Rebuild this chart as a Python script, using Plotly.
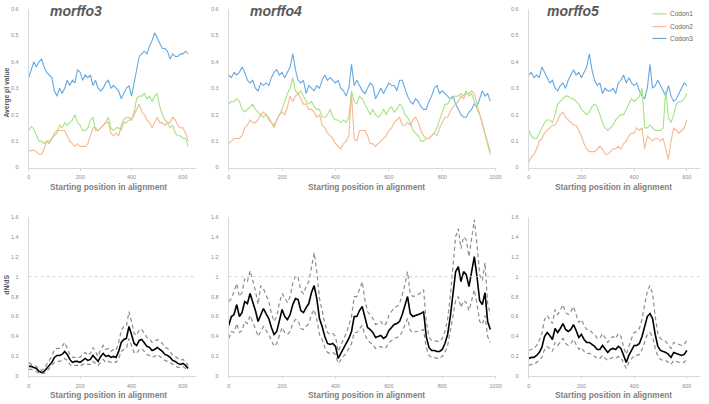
import plotly.graph_objects as go

# ---------------- data ----------------
pos3 = list(range(0, 630, 10))
pos4 = list(range(0, 990, 10))
pos5 = list(range(0, 610, 10))

m3_codon3 = [0.34,0.37,0.40,0.38,0.40,0.41,0.38,0.36,0.35,0.34,
             0.29,0.27,0.30,0.28,0.30,0.33,0.31,0.33,0.32,0.37,
             0.36,0.33,0.35,0.34,0.35,0.31,0.33,0.30,0.29,0.30,
             0.32,0.33,0.30,0.31,0.30,0.29,0.26,0.28,0.30,0.31,
             0.27,0.32,0.37,0.42,0.43,0.44,0.43,0.46,0.48,0.51,
             0.49,0.47,0.45,0.45,0.44,0.41,0.43,0.42,0.42,0.43,
             0.43,0.44,0.43]
m3_codon1 = [0.14,0.155,0.145,0.12,0.10,0.10,0.09,0.10,0.09,0.11,
             0.12,0.13,0.16,0.15,0.17,0.16,0.17,0.18,0.20,0.17,
             0.16,0.14,0.14,0.15,0.18,0.19,0.14,0.14,0.15,0.16,
             0.17,0.19,0.15,0.14,0.15,0.15,0.14,0.17,0.17,0.18,
             0.18,0.21,0.26,0.27,0.27,0.28,0.26,0.27,0.25,0.27,
             0.28,0.23,0.20,0.18,0.17,0.15,0.16,0.13,0.12,0.12,
             0.11,0.11,0.08]
m3_codon2 = [0.06,0.065,0.065,0.06,0.05,0.05,0.07,0.10,0.10,0.11,
             0.13,0.14,0.14,0.14,0.14,0.12,0.10,0.09,0.08,0.09,
             0.08,0.08,0.08,0.09,0.12,0.15,0.15,0.14,0.15,0.16,
             0.17,0.17,0.13,0.12,0.13,0.12,0.16,0.18,0.19,0.19,
             0.18,0.20,0.22,0.24,0.21,0.20,0.18,0.17,0.15,0.17,
             0.19,0.17,0.17,0.16,0.17,0.17,0.19,0.18,0.16,0.15,
             0.15,0.13,0.10]

m4_codon3 = [0.35,0.34,0.36,0.35,0.36,0.38,0.36,0.33,0.32,0.33,
             0.30,0.29,0.32,0.31,0.32,0.31,0.34,0.36,0.37,0.35,
             0.36,0.34,0.36,0.38,0.43,0.37,0.33,0.32,0.33,0.28,
             0.31,0.30,0.29,0.31,0.30,0.33,0.35,0.33,0.34,0.33,
             0.32,0.33,0.30,0.29,0.27,0.30,0.39,0.31,0.33,0.31,
             0.29,0.28,0.30,0.32,0.31,0.26,0.28,0.30,0.28,0.30,
             0.32,0.31,0.31,0.29,0.33,0.33,0.30,0.27,0.25,0.24,
             0.26,0.25,0.23,0.22,0.22,0.25,0.27,0.30,0.31,0.28,
             0.29,0.28,0.27,0.26,0.27,0.24,0.22,0.20,0.19,0.19,
             0.21,0.22,0.24,0.23,0.26,0.29,0.27,0.28,0.25]
m4_codon1 = [0.24,0.25,0.25,0.26,0.25,0.22,0.21,0.22,0.23,0.24,
             0.22,0.21,0.20,0.19,0.20,0.18,0.17,0.16,0.18,0.20,
             0.22,0.25,0.28,0.30,0.34,0.29,0.28,0.29,0.27,0.25,
             0.24,0.25,0.23,0.22,0.22,0.19,0.19,0.20,0.22,0.19,
             0.18,0.18,0.17,0.18,0.17,0.19,0.29,0.25,0.24,0.27,
             0.26,0.24,0.22,0.20,0.22,0.20,0.19,0.20,0.22,0.20,
             0.22,0.23,0.21,0.22,0.24,0.23,0.20,0.19,0.17,0.14,
             0.13,0.12,0.10,0.10,0.11,0.11,0.12,0.13,0.15,0.18,
             0.21,0.24,0.24,0.26,0.26,0.27,0.27,0.28,0.27,0.29,
             0.27,0.28,0.25,0.22,0.20,0.17,0.13,0.09,0.06]
m4_codon2 = [0.09,0.10,0.11,0.11,0.11,0.12,0.15,0.16,0.18,0.17,
             0.17,0.18,0.20,0.21,0.20,0.19,0.17,0.15,0.18,0.20,
             0.21,0.20,0.23,0.27,0.25,0.27,0.28,0.26,0.24,0.24,
             0.22,0.22,0.21,0.19,0.20,0.16,0.15,0.13,0.12,0.11,
             0.09,0.08,0.07,0.09,0.10,0.12,0.28,0.11,0.10,0.14,
             0.14,0.14,0.12,0.09,0.09,0.08,0.09,0.10,0.11,0.12,
             0.14,0.15,0.17,0.18,0.19,0.16,0.16,0.17,0.16,0.18,
             0.19,0.17,0.14,0.12,0.11,0.11,0.12,0.13,0.12,0.15,
             0.17,0.19,0.19,0.21,0.23,0.24,0.25,0.27,0.26,0.28,
             0.28,0.29,0.28,0.24,0.20,0.16,0.13,0.08,0.05]

m5_codon3 = [0.35,0.36,0.34,0.35,0.34,0.38,0.36,0.34,0.32,0.33,
             0.30,0.29,0.31,0.32,0.30,0.33,0.35,0.37,0.35,0.36,
             0.34,0.36,0.38,0.43,0.37,0.33,0.31,0.32,0.28,0.30,
             0.29,0.29,0.30,0.28,0.32,0.33,0.35,0.32,0.34,0.32,
             0.31,0.32,0.29,0.27,0.26,0.30,0.39,0.30,0.31,0.33,
             0.31,0.29,0.27,0.31,0.27,0.25,0.26,0.28,0.30,0.32,
             0.31]
m5_codon1 = [0.14,0.12,0.11,0.11,0.13,0.15,0.17,0.18,0.18,0.17,
             0.20,0.24,0.25,0.26,0.27,0.27,0.26,0.26,0.25,0.24,
             0.22,0.21,0.20,0.21,0.23,0.24,0.23,0.20,0.17,0.15,
             0.14,0.15,0.16,0.18,0.19,0.20,0.20,0.22,0.24,0.26,
             0.25,0.26,0.27,0.30,0.15,0.15,0.16,0.15,0.14,0.14,
             0.14,0.15,0.29,0.19,0.17,0.20,0.24,0.25,0.25,0.26,
             0.28]
m5_codon2 = [0.02,0.04,0.05,0.07,0.10,0.11,0.13,0.14,0.15,0.16,
             0.16,0.18,0.20,0.21,0.19,0.18,0.17,0.16,0.16,0.14,
             0.12,0.09,0.07,0.06,0.06,0.06,0.07,0.08,0.07,0.05,
             0.05,0.06,0.07,0.07,0.08,0.07,0.09,0.10,0.12,0.13,
             0.13,0.15,0.14,0.15,0.07,0.12,0.11,0.10,0.11,0.11,
             0.10,0.11,0.07,0.03,0.10,0.15,0.14,0.13,0.14,0.15,
             0.18]

m3_dnds = [0.10,0.10,0.09,0.08,0.05,0.04,0.05,0.08,0.11,0.14,
           0.19,0.21,0.21,0.22,0.25,0.22,0.17,0.14,0.15,0.15,
           0.14,0.16,0.18,0.16,0.17,0.21,0.18,0.15,0.20,0.23,
           0.20,0.21,0.19,0.20,0.19,0.25,0.34,0.37,0.38,0.50,
           0.42,0.33,0.31,0.36,0.37,0.33,0.30,0.29,0.26,0.27,
           0.29,0.27,0.25,0.22,0.21,0.19,0.16,0.15,0.13,0.12,
           0.13,0.11,0.08]
m3_upper = [0.14,0.12,0.11,0.10,0.07,0.06,0.08,0.12,0.16,0.20,
            0.27,0.28,0.28,0.30,0.34,0.28,0.22,0.19,0.19,0.19,
            0.19,0.22,0.24,0.21,0.23,0.29,0.24,0.20,0.27,0.31,
            0.27,0.28,0.25,0.27,0.26,0.34,0.46,0.50,0.50,0.65,
            0.55,0.43,0.41,0.47,0.47,0.43,0.39,0.38,0.34,0.35,
            0.37,0.35,0.33,0.29,0.28,0.25,0.21,0.20,0.18,0.16,
            0.17,0.15,0.11]
m3_lower = [0.07,0.07,0.06,0.05,0.03,0.03,0.03,0.05,0.08,0.10,
            0.14,0.15,0.15,0.16,0.18,0.16,0.12,0.10,0.11,0.11,
            0.10,0.12,0.13,0.12,0.12,0.15,0.13,0.11,0.14,0.17,
            0.14,0.15,0.14,0.15,0.14,0.18,0.25,0.27,0.28,0.38,
            0.31,0.24,0.23,0.27,0.28,0.25,0.22,0.21,0.19,0.20,
            0.22,0.20,0.18,0.16,0.15,0.14,0.12,0.11,0.09,0.09,
            0.10,0.08,0.06]

m4_dnds = [0.51,0.60,0.62,0.72,0.60,0.64,0.75,0.73,0.83,0.75,
           0.66,0.55,0.62,0.68,0.63,0.58,0.49,0.42,0.45,0.56,
           0.67,0.60,0.57,0.62,0.72,0.78,0.77,0.66,0.64,0.69,
           0.73,0.84,0.91,0.78,0.58,0.50,0.40,0.33,0.32,0.33,
           0.30,0.18,0.23,0.28,0.32,0.38,0.45,0.60,0.60,0.66,
           0.70,0.58,0.49,0.47,0.44,0.39,0.40,0.41,0.38,0.40,
           0.46,0.49,0.52,0.53,0.55,0.62,0.70,0.80,0.63,0.60,
           0.61,0.62,0.63,0.65,0.40,0.29,0.26,0.26,0.25,0.25,
           0.27,0.33,0.42,0.60,0.82,1.05,1.10,0.95,1.05,1.02,
           0.90,1.05,1.20,1.00,0.76,0.72,0.84,0.55,0.47]
m4_upper = [0.75,0.78,0.85,0.93,0.80,0.84,0.98,0.95,1.06,0.97,
            0.86,0.72,0.91,0.88,0.82,0.75,0.63,0.55,0.60,0.74,
            0.83,0.78,0.74,0.80,0.93,1.01,0.99,0.86,0.83,0.90,
            0.95,1.09,1.24,1.05,0.78,0.66,0.53,0.44,0.42,0.43,
            0.40,0.25,0.31,0.37,0.43,0.51,0.60,0.80,0.80,0.87,
            0.95,0.77,0.65,0.62,0.58,0.52,0.53,0.55,0.51,0.53,
            0.61,0.65,0.69,0.70,0.73,0.82,0.92,1.05,0.83,0.80,
            0.81,0.82,0.84,0.87,0.55,0.40,0.36,0.36,0.35,0.35,
            0.38,0.45,0.57,0.80,1.10,1.40,1.48,1.28,1.40,1.37,
            1.20,1.40,1.57,1.33,1.02,0.96,1.14,0.73,0.62]
m4_lower = [0.38,0.45,0.44,0.53,0.44,0.46,0.55,0.53,0.61,0.55,
            0.48,0.40,0.45,0.50,0.46,0.42,0.36,0.30,0.33,0.41,
            0.49,0.44,0.42,0.45,0.53,0.57,0.56,0.48,0.47,0.50,
            0.53,0.62,0.67,0.57,0.42,0.37,0.29,0.24,0.23,0.24,
            0.22,0.13,0.17,0.20,0.23,0.28,0.33,0.44,0.44,0.48,
            0.51,0.42,0.36,0.34,0.32,0.28,0.29,0.30,0.28,0.29,
            0.34,0.36,0.38,0.39,0.40,0.45,0.51,0.58,0.46,0.44,
            0.45,0.45,0.46,0.47,0.29,0.21,0.19,0.19,0.18,0.18,
            0.20,0.24,0.31,0.44,0.60,0.76,0.80,0.69,0.76,0.74,
            0.66,0.76,0.87,0.73,0.55,0.52,0.61,0.40,0.34]

m5_dnds = [0.18,0.19,0.19,0.21,0.24,0.29,0.40,0.44,0.41,0.37,
           0.48,0.44,0.48,0.53,0.47,0.45,0.47,0.52,0.46,0.39,
           0.42,0.37,0.34,0.34,0.32,0.30,0.27,0.27,0.31,0.27,
           0.24,0.27,0.28,0.27,0.30,0.28,0.20,0.14,0.21,0.26,
           0.31,0.31,0.33,0.40,0.50,0.60,0.63,0.58,0.42,0.30,
           0.26,0.25,0.24,0.22,0.19,0.24,0.23,0.22,0.21,0.22,
           0.26]
m5_upper = [0.26,0.27,0.28,0.31,0.36,0.43,0.57,0.61,0.57,0.53,
            0.67,0.62,0.66,0.72,0.64,0.62,0.65,0.70,0.62,0.54,
            0.57,0.51,0.47,0.47,0.44,0.42,0.38,0.38,0.43,0.38,
            0.34,0.38,0.40,0.38,0.43,0.40,0.29,0.22,0.31,0.38,
            0.44,0.45,0.48,0.57,0.72,0.85,0.91,0.83,0.60,0.43,
            0.38,0.36,0.35,0.32,0.28,0.34,0.33,0.32,0.31,0.32,
            0.36]
m5_lower = [0.11,0.12,0.12,0.14,0.16,0.19,0.27,0.30,0.28,0.25,
            0.34,0.31,0.34,0.38,0.33,0.31,0.33,0.37,0.32,0.27,
            0.29,0.25,0.23,0.23,0.22,0.20,0.18,0.18,0.21,0.18,
            0.16,0.18,0.19,0.18,0.20,0.19,0.13,0.08,0.14,0.17,
            0.21,0.21,0.22,0.27,0.34,0.42,0.44,0.40,0.28,0.20,
            0.17,0.16,0.16,0.14,0.12,0.16,0.15,0.14,0.14,0.14,
            0.18]

titles = ["morffo3", "morffo4", "morffo5"]
series_names = ["Codon1", "Codon2", "Codon3"]
top_ticks = [0, 0.1, 0.2, 0.3, 0.4, 0.5, 0.6]
bottom_ticks = [0, 0.2, 0.4, 0.6, 0.8, 1.0, 1.2, 1.4, 1.6]
x_title = "Starting position in alignment"

# ---------------- style ----------------
W, H = 709, 404
GREEN = "#a2e483"
ORANGE = "#f6b892"
BLUE = "#62a9e4"
AXIS = "#d9d9d9"
TICKF = dict(family="Arial, Liberation Sans", size=5.5, color="#8c8c8c")
FONT = "Arial, Liberation Sans"

def px_x(p):
    return p / W

def px_y(p):
    return (H - p) / H

top_dom_y = [px_y(167), px_y(6)]
bot_dom_y = [px_y(379), px_y(217)]
x_doms = [[px_x(27), px_x(196)], [px_x(229.3), px_x(499.3)], [px_x(532.7), px_x(706)]]
x_ranges = [[0, 650], [0, 1000], [0, 650]]
x_ticks = [[0, 200, 400, 600], [0, 200, 400, 600, 800, 1000], [0, 200, 400, 600]]

fig = go.Figure()

top_data = [
    (pos3, m3_codon1, m3_codon2, m3_codon3),
    (pos4, m4_codon1, m4_codon2, m4_codon3),
    (pos5, m5_codon1, m5_codon2, m5_codon3),
]
bot_data = [
    (pos3, m3_dnds, m3_upper, m3_lower),
    (pos4, m4_dnds, m4_upper, m4_lower),
    (pos5, m5_dnds, m5_upper, m5_lower),
]

for i, (xs, c1, c2, c3) in enumerate(top_data):
    k = i + 1
    xa = "x" if k == 1 else f"x{k}"
    ya = "y" if k == 1 else f"y{k}"
    for ys, col, nm in ((c3, BLUE, series_names[2]), (c1, GREEN, series_names[0]), (c2, ORANGE, series_names[1])):
        fig.add_trace(go.Scatter(x=xs, y=ys, mode="lines", name=nm, showlegend=False,
                                 line=dict(color=col, width=1.1), xaxis=xa, yaxis=ya))

for i, (xs, mid, up, lo) in enumerate(bot_data):
    k = i + 4
    xa, ya = f"x{k}", f"y{k}"
    for ys in (up, lo):
        fig.add_trace(go.Scatter(x=xs, y=ys, mode="lines", showlegend=False,
                                 line=dict(color="#8c8c8c", width=1.2, dash="4px,3px"),
                                 xaxis=xa, yaxis=ya))
    fig.add_trace(go.Scatter(x=xs, y=mid, mode="lines", showlegend=False,
                             line=dict(color="#000000", width=1.6), xaxis=xa, yaxis=ya))

layout = dict(width=W, height=H, autosize=False, margin=dict(l=0, r=0, t=0, b=0),
              paper_bgcolor="white", plot_bgcolor="white", showlegend=False)

for k in range(1, 7):
    col = (k - 1) % 3
    top = k <= 3
    xkey = "xaxis" if k == 1 else f"xaxis{k}"
    ykey = "yaxis" if k == 1 else f"yaxis{k}"
    layout[xkey] = dict(domain=x_doms[col], range=x_ranges[col], tickvals=x_ticks[col],
                        anchor="y" if k == 1 else f"y{k}",
                        showline=True, linecolor=AXIS, linewidth=1, showgrid=False, zeroline=False,
                        ticks="outside", ticklen=2, tickcolor=AXIS, tickfont=TICKF,
                        ticklabelstandoff=2)
    layout[ykey] = dict(domain=top_dom_y if top else bot_dom_y,
                        range=[0, 0.6] if top else [0, 1.6],
                        tickvals=top_ticks if top else bottom_ticks,
                        anchor="x" if k == 1 else f"x{k}",
                        showline=True, linecolor=AXIS, linewidth=1, showgrid=False, zeroline=False,
                        ticks="", tickfont=TICKF, ticklabelstandoff=8)

fig.update_layout(**layout)

shapes = []
for k in (4, 5, 6):
    shapes.append(dict(type="line", xref=f"x{k} domain", yref=f"y{k}", x0=0, x1=1, y0=1, y1=1,
                       line=dict(color="#d4d4d4", width=1, dash="dot")))
# legend samples
leg_y = [11, 24, 36]
leg_cols = [GREEN, ORANGE, BLUE]
for yy, cc in zip(leg_y, leg_cols):
    shapes.append(dict(type="line", xref="paper", yref="paper", x0=px_x(658), x1=px_x(672),
                       y0=px_y(yy), y1=px_y(yy), line=dict(color=cc, width=1.2)))

annotations = []
for name, cx in zip(titles, [75, 277, 578]):
    annotations.append(dict(text=f"<b><i>{name}</i></b>", x=px_x(cx), y=px_y(8), xref="paper", yref="paper",
                            showarrow=False, xanchor="center", yanchor="middle",
                            font=dict(family=FONT, size=14, color="#595959")))
for cx in [107.5, 368.7, 618.6]:
    for cy in [187, 398]:
        annotations.append(dict(text=f"<b>{x_title}</b>", x=px_x(cx), y=px_y(cy), xref="paper", yref="paper",
                                showarrow=False, xanchor="center", yanchor="middle",
                                font=dict(family=FONT, size=8.3, color="#7f7f7f")))
annotations.append(dict(text="<b>Averge pi value</b>", x=px_x(5), y=px_y(91), xref="paper", yref="paper",
                        showarrow=False, textangle=-90, xanchor="center", yanchor="middle",
                        font=dict(family=FONT, size=6.8, color="#595959")))
annotations.append(dict(text="<b>dN/dS</b>", x=px_x(5), y=px_y(286), xref="paper", yref="paper",
                        showarrow=False, textangle=-90, xanchor="center", yanchor="middle",
                        font=dict(family=FONT, size=6.8, color="#595959")))
for yy, nm in zip(leg_y, series_names):
    annotations.append(dict(text=nm, x=px_x(674), y=px_y(yy), xref="paper", yref="paper",
                            showarrow=False, xanchor="left", yanchor="middle",
                            font=dict(family=FONT, size=6.5, color="#666666")))

fig.update_layout(shapes=shapes, annotations=annotations)
fig.write_html("out.html")
